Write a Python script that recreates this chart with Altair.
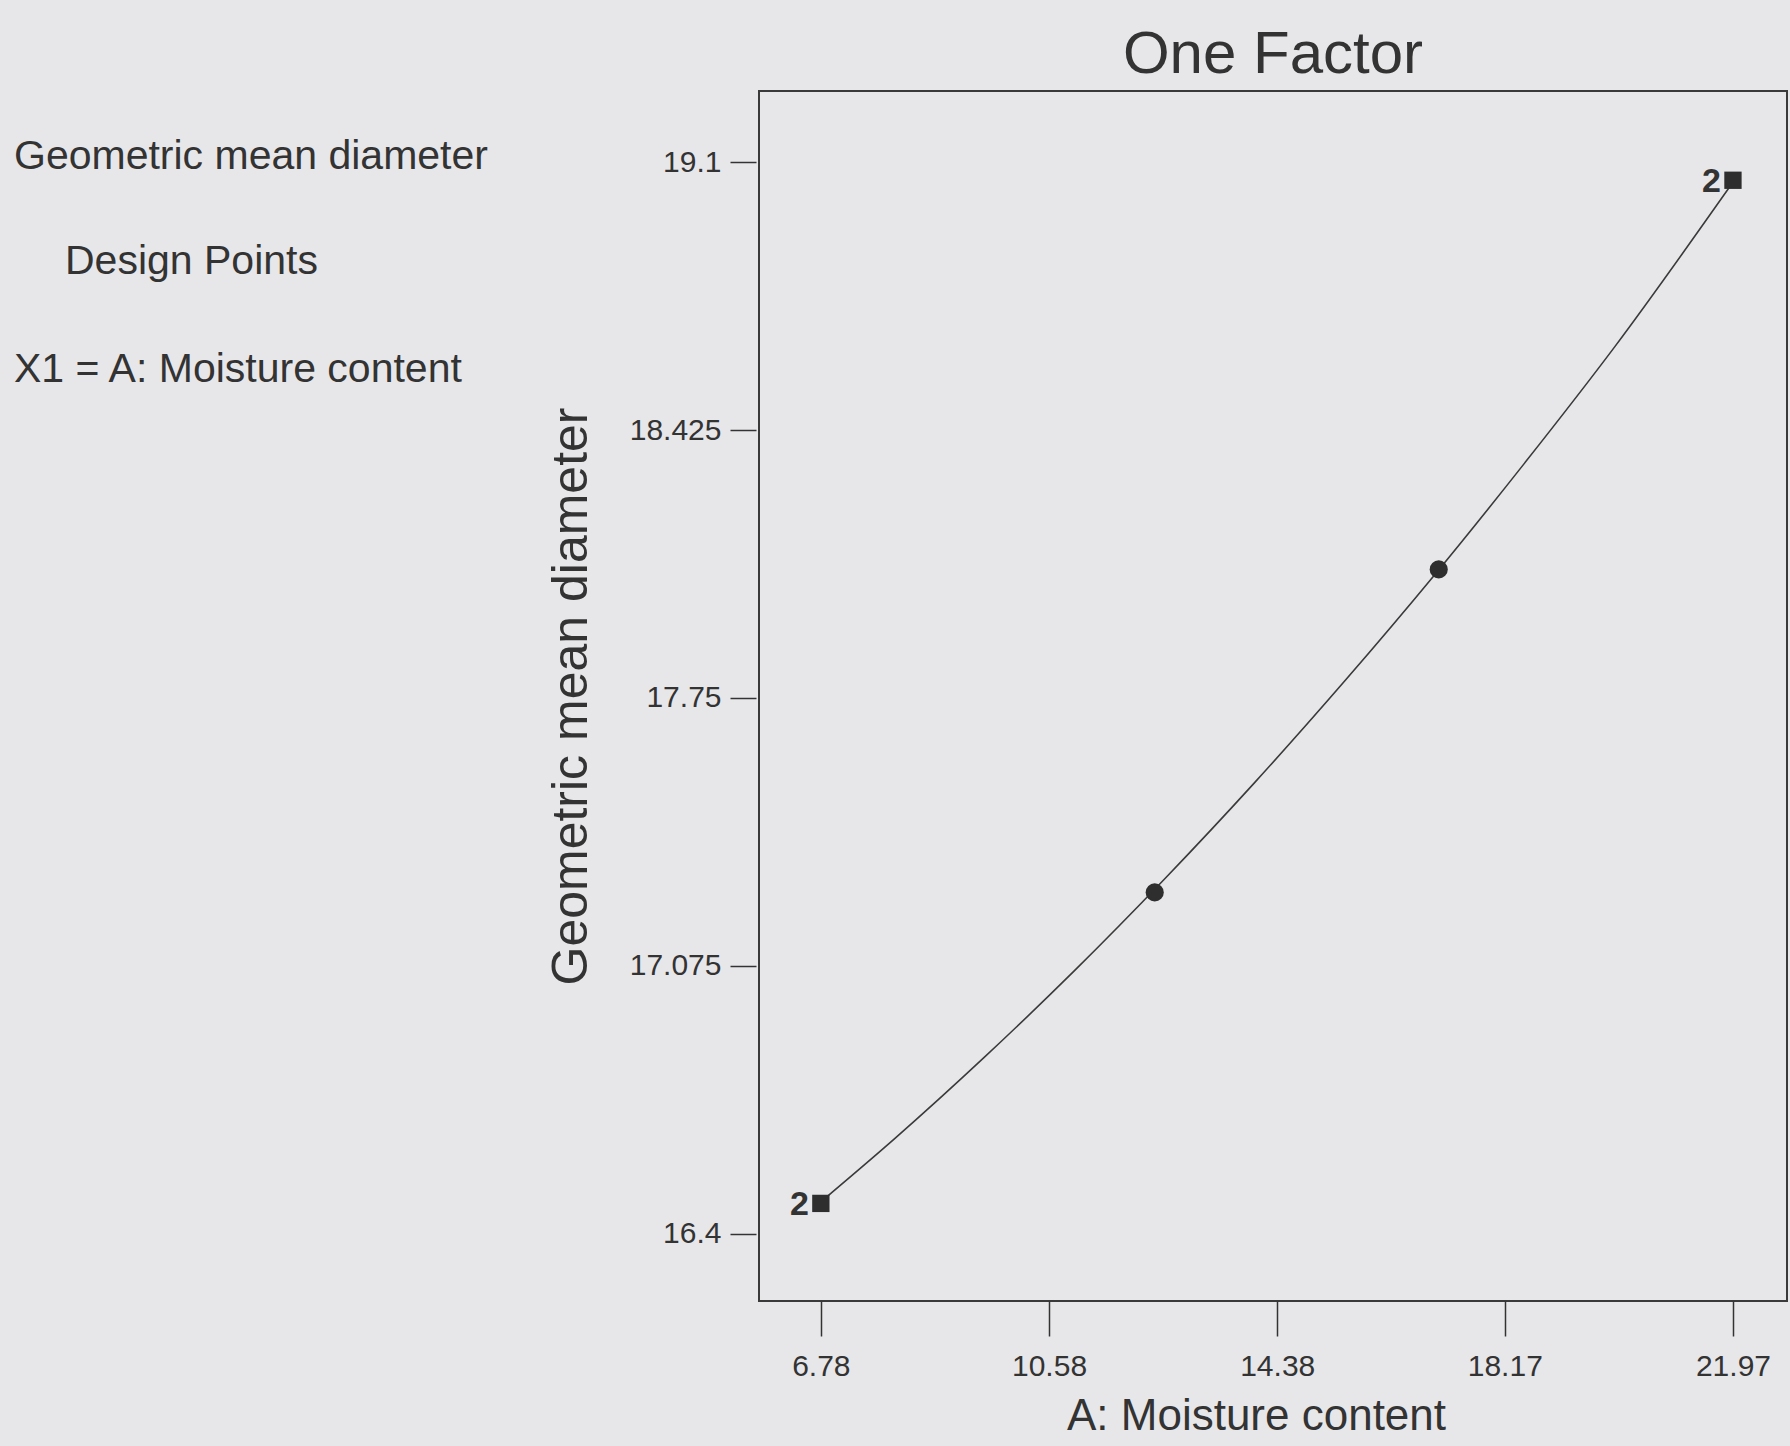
import altair as alt
import pandas as pd

# Design points (moisture content vs geometric mean diameter) and replicate counts
design_x = [6.78, 12.34, 17.07, 21.97]
design_y = [16.476, 17.26, 18.074, 19.055]
replicates = [2, 1, 1, 2]

# Fitted response curve read along the moisture range
curve_x = [6.78, 8.0, 9.5, 11.0, 12.5, 14.0, 15.5, 17.0, 18.5, 20.0, 21.97]
curve_y = [16.48, 16.638, 16.844, 17.062, 17.293, 17.536, 17.792, 18.06, 18.342, 18.635, 19.05]

x_ticks = [6.78, 10.58, 14.38, 18.17, 21.97]
y_ticks = [16.4, 17.075, 17.75, 18.425, 19.1]

chart_title = "One Factor"
side_notes = ["Geometric mean diameter", "Design Points", "X1 = A: Moisture content"]

FONT = "Liberation Sans"
INK = "#333333"
BG = "#e7e7ea"
PLOT_W = 1028
PLOT_H = 1210

points = pd.DataFrame({"x": design_x, "y": design_y, "n": replicates})
points["kind"] = ["square" if n > 1 else "circle" for n in replicates]
points["label"] = [str(n) if n > 1 else "" for n in replicates]
curve = pd.DataFrame({"x": curve_x, "y": curve_y})

x_scale = alt.Scale(domain=[5.75, 22.87], nice=False, zero=False)
y_scale = alt.Scale(domain=[16.23, 19.28], nice=False, zero=False)

x_axis = alt.Axis(
    values=x_ticks, format=".2f", title="A: Moisture content",
    domain=False, grid=False, tickSize=35, tickColor=INK, tickWidth=1.5,
    labelFont=FONT, labelFontSize=30, labelColor=INK, labelPadding=15,
    titleFont=FONT, titleFontSize=44, titleFontWeight="normal", titleColor=INK,
    titlePadding=13, titleX=PLOT_W / 2 - 17, labelFlush=False,
)
y_axis = alt.Axis(
    values=y_ticks, format=".3~f", title="Geometric mean diameter",
    domain=False, grid=False, tickSize=26, tickColor=INK, tickWidth=1.5, offset=3,
    labelFont=FONT, labelFontSize=30, labelColor=INK, labelPadding=9,
    titleFont=FONT, titleFontSize=50, titleFontWeight="normal", titleColor=INK,
    titlePadding=33, labelFlush=False,
)

line = alt.Chart(curve).mark_line(color="#3a3a3a", strokeWidth=1.6, interpolate="monotone").encode(
    x=alt.X("x:Q", scale=x_scale, axis=x_axis),
    y=alt.Y("y:Q", scale=y_scale, axis=y_axis),
)

dots = alt.Chart(points).mark_point(filled=True, opacity=1, color="#2e2e2e").encode(
    x=alt.X("x:Q", scale=x_scale),
    y=alt.Y("y:Q", scale=y_scale),
    shape=alt.Shape("kind:N", scale=alt.Scale(domain=["square", "circle"], range=["square", "circle"]), legend=None),
    size=alt.Size("kind:N", scale=alt.Scale(domain=["square", "circle"], range=[300, 330]), legend=None),
)

counts = alt.Chart(points).mark_text(
    font=FONT, fontSize=34, fontWeight="bold", color=INK, align="right", baseline="middle", dx=-12, dy=2
).encode(
    x=alt.X("x:Q", scale=x_scale),
    y=alt.Y("y:Q", scale=y_scale),
    text="label:N",
)

# Chart heading, centred over the plot frame
heading = alt.Chart(pd.DataFrame({"t": [chart_title]})).mark_text(
    font=FONT, fontSize=60, color=INK, align="center", baseline="alphabetic"
).encode(x=alt.value(PLOT_W / 2), y=alt.value(-18), text="t:N")

notes = []
for txt, px, py in zip(side_notes, [-745, -694, -745], [78, 183, 291]):
    notes.append(
        alt.Chart(pd.DataFrame({"t": [txt]})).mark_text(
            font=FONT, fontSize=41, color=INK, align="left", baseline="alphabetic"
        ).encode(x=alt.value(px), y=alt.value(py), text="t:N")
    )

chart = alt.layer(line, dots, counts, heading, *notes).properties(
    width=PLOT_W,
    height=PLOT_H,
    background=BG,
    padding={"left": 759, "top": 91, "right": 3, "bottom": 145},
    autosize=alt.AutoSizeParams(type="none"),
).configure_view(stroke="#3a3a3a", strokeWidth=2)

chart.save("out.html", embed_options={"renderer": "svg", "actions": False})
